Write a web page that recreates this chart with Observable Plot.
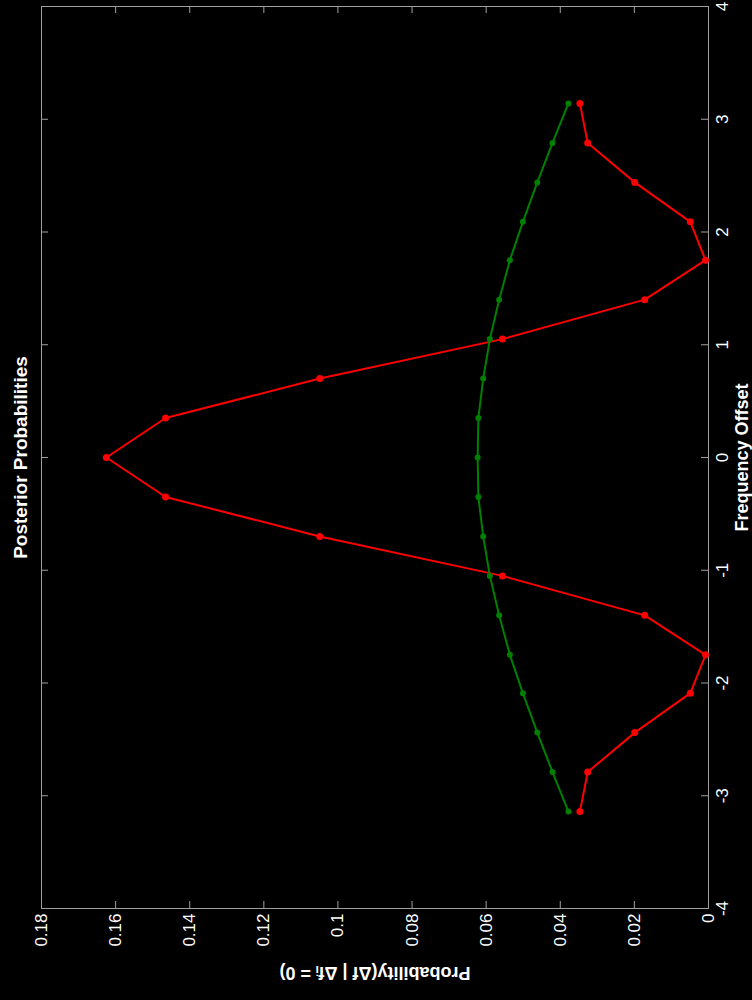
<!DOCTYPE html>
<html>
<head>
<meta charset="utf-8">
<script src="https://cdn.jsdelivr.net/npm/d3@7"></script>
<script src="https://cdn.jsdelivr.net/npm/@observablehq/plot@0.6"></script>
<style>
  html, body { margin: 0; padding: 0; background: #000; }
  #chart svg { display: block; }
</style>
</head>
<body>
<div id="chart"></div>
<script>
// Frequency offsets (sample positions)
const freqOffset = [-3.14, -2.79, -2.44, -2.09, -1.75, -1.40, -1.05, -0.70, -0.35, 0,
                    0.35, 0.70, 1.05, 1.40, 1.75, 2.09, 2.44, 2.79, 3.14];
// Red series (sharp posterior)
const redProb = [0.0347, 0.0326, 0.0199, 0.0049, 0.0008, 0.0172, 0.0556, 0.1049, 0.1465, 0.1625,
                 0.1465, 0.1049, 0.0556, 0.0172, 0.0008, 0.0049, 0.0199, 0.0326, 0.0347];
// Green series (broad posterior)
const greenProb = [0.0378, 0.0421, 0.0462, 0.0501, 0.0536, 0.0565, 0.0590, 0.0608, 0.0621, 0.0623,
                   0.0621, 0.0608, 0.0590, 0.0565, 0.0536, 0.0501, 0.0462, 0.0421, 0.0378];
// Tick values
const probTicks = [0, 0.02, 0.04, 0.06, 0.08, 0.1, 0.12, 0.14, 0.16, 0.18];
const freqTicks = [-4, -3, -2, -1, 0, 1, 2, 3, 4];

const titleText = "Posterior Probabilities";
const freqLabel = "Frequency Offset";
const probLabel = "Probability(\u0394f | \u0394f\u1D62 = 0)";

const red = freqOffset.map((f, i) => ({f, p: redProb[i]}));
const green = freqOffset.map((f, i) => ({f, p: greenProb[i]}));

const axisColor = "#a0a0a0";
const font = "'Liberation Sans', Arial, Helvetica, sans-serif";

const chart = Plot.plot({
  width: 752,
  height: 1000,
  marginLeft: 41,
  marginRight: 44,
  marginTop: 6,
  marginBottom: 92,
  style: {background: "#000", color: "#fff", fontFamily: font},
  x: {domain: [0.18, 0], axis: null},
  y: {domain: [-4, 4], axis: null},
  marks: [
    Plot.frame({stroke: axisColor}),
    // inward ticks, probability axis (bottom & top)
    Plot.tickX(probTicks, {x: d => d, stroke: axisColor, insetTop: 895}),
    Plot.tickX(probTicks, {x: d => d, stroke: axisColor, insetBottom: 895}),
    // inward ticks, frequency axis (right & left)
    Plot.tickY(freqTicks, {y: d => d, stroke: axisColor, insetLeft: 660}),
    Plot.tickY(freqTicks, {y: d => d, stroke: axisColor, insetRight: 660}),
    // probability tick labels (bottom)
    Plot.text(probTicks, {x: d => d, text: d => String(+d.toFixed(2)), frameAnchor: "bottom",
      rotate: -90, textAnchor: "end", lineAnchor: "middle", dy: 5, fontSize: 17, fill: "#fff"}),
    // frequency tick labels (right)
    Plot.text(freqTicks, {y: d => d, text: d => String(d), frameAnchor: "right",
      rotate: -90, textAnchor: "middle", lineAnchor: "middle", dx: 14, fontSize: 17, fill: "#fff"}),
    Plot.line(red, {x: "p", y: "f", stroke: "#ff0000", strokeWidth: 2}),
    Plot.dot(red, {x: "p", y: "f", fill: "#ff0000", r: 3.5}),
    Plot.line(green, {x: "p", y: "f", stroke: "#008000", strokeWidth: 2}),
    Plot.dot(green, {x: "p", y: "f", fill: "#008000", r: 3}),
    Plot.text([titleText], {frameAnchor: "left", rotate: -90, textAnchor: "middle", lineAnchor: "middle",
      dx: -21, fontSize: 19, fontWeight: "bold", fill: "#fff"}),
    Plot.text([freqLabel], {frameAnchor: "right", rotate: -90, textAnchor: "middle", lineAnchor: "middle",
      dx: 34, fontSize: 18, fontWeight: "bold", fill: "#fff"}),
    Plot.text([probLabel], {frameAnchor: "bottom", rotate: 180, textAnchor: "middle", lineAnchor: "middle",
      dy: 64, fontSize: 18, fontWeight: "bold", fill: "#fff"})
  ]
});
document.getElementById("chart").appendChild(chart);
</script>
</body>
</html>
